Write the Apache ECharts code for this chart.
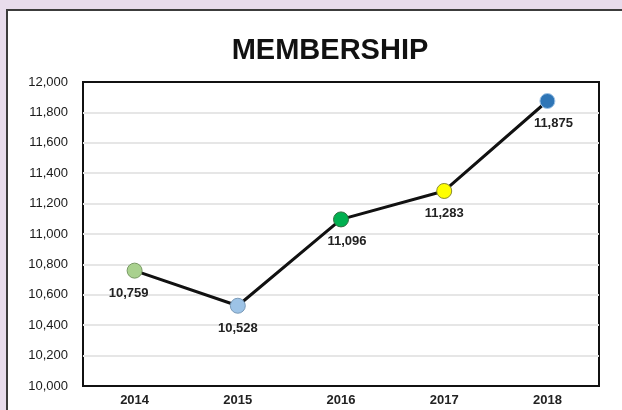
<!DOCTYPE html>
<html>
<head>
<meta charset="utf-8">
<script src="https://cdn.jsdelivr.net/npm/echarts@6/dist/echarts.min.js"></script>
<style>
  html, body { margin: 0; padding: 0; background: #e8dcec; }
  #chart { width: 622px; height: 410px; }
</style>
</head>
<body>
<div id="chart"></div>
<script>
// 数据
const years = ['2014', '2015', '2016', '2017', '2018'];
const members = [10759, 10528, 11096, 11283, 11875];

// 每个点的颜色和标签偏移（样式，不是数据）
const dotColors = ['#a9d18e', '#9dc3e6', '#00b050', '#ffff00', '#2e75b6'];
const dotBorders = ['#7a9a66', '#7a9ab8', '#2f6f3f', '#8a8a30', '#9dc3e6'];
const labelShift = [[-6, 0], [0, 0], [6, 0], [0, 0], [6, 0]];

const fmt = v => v.toLocaleString('en-US');

const chart = echarts.init(document.getElementById('chart'));
chart.setOption({
    backgroundColor: '#e8dcec',
    textStyle: { fontFamily: 'Liberation Sans, Arial, sans-serif' },
    graphic: [{
        type: 'rect',
        shape: { x: 7, y: 10, width: 640, height: 420 },
        style: { fill: '#ffffff', stroke: '#3c3c3c', lineWidth: 2 },
        z: -10
    }],
    title: {
        text: 'MEMBERSHIP',
        left: 325,
        top: 31,
        textAlign: 'center',
        textStyle: { fontSize: 29, fontWeight: 'bold', color: '#111' }
    },
    grid: {
        left: 83, right: 23, top: 82, bottom: 24,
        show: true, borderColor: '#111', borderWidth: 2
    },
    xAxis: {
        type: 'category',
        data: years,
        boundaryGap: true,
        axisLine: { lineStyle: { color: '#111', width: 2 } },
        axisTick: { show: false },
        axisLabel: { color: '#222', fontSize: 13, fontWeight: 'bold', margin: 8 }
    },
    yAxis: {
        type: 'value',
        min: 10000,
        max: 12000,
        interval: 200,
        axisLine: { show: false },
        axisTick: { show: false },
        splitLine: { showMinLine: false, showMaxLine: false, lineStyle: { color: '#e6e6e6', width: 2 } },
        axisLabel: { color: '#1a1a1a', fontSize: 13, margin: 15, formatter: fmt }
    },
    series: [{
        type: 'line',
        data: members.map((v, i) => ({
            value: v,
            itemStyle: { color: dotColors[i], borderColor: dotBorders[i], borderWidth: 1 },
            label: { offset: labelShift[i] }
        })),
        symbol: 'circle',
        symbolSize: 15,
        lineStyle: { color: '#111', width: 3 },
        label: {
            show: true,
            position: 'bottom',
            distance: 8,
            color: '#222',
            fontSize: 13,
            fontWeight: 'bold',
            formatter: p => fmt(p.value)
        },
        z: 5
    }]
});
</script>
</body>
</html>
